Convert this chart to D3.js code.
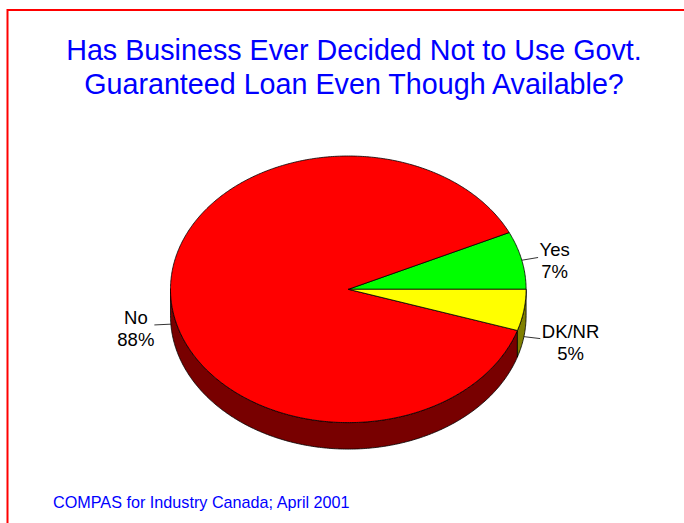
<!DOCTYPE html>
<html>
<head>
<meta charset="utf-8">
<script src="https://cdn.jsdelivr.net/npm/d3@7/dist/d3.min.js"></script>
<style>
  html, body { margin: 0; padding: 0; background: #fff; }
  svg { display: block; font-family: "Liberation Sans", Arial, sans-serif; }
</style>
</head>
<body>
<svg id="chart" width="684" height="523"></svg>
<script>
// Survey answers, in drawing order (counter-clockwise from 3 o'clock)
const categories = ["Yes", "No", "DK/NR"];
const values = [7, 88, 5];
const valueLabels = ["7%", "88%", "5%"];
const topColors = ["#00ff00", "#ff0000", "#ffff00"];
const sideColors = ["#007f00", "#780000", "#808000"];

const titleLines = [
  "Has Business Ever Decided Not to Use Govt.",
  "Guaranteed Loan Even Though Available?"
];
const sourceNote = "COMPAS for Industry Canada; April 2001";

const W = 684, H = 523;
const svg = d3.select("#chart");

// Frame
svg.append("path")
  .attr("d", `M7.5,${H + 5} V10 H${W + 5}`)
  .attr("fill", "none")
  .attr("stroke", "#ff0000")
  .attr("stroke-width", 2);

// Title
svg.append("g")
  .selectAll("text")
  .data(titleLines)
  .join("text")
  .attr("x", 354)
  .attr("y", (d, i) => 59.5 + i * 34)
  .attr("text-anchor", "middle")
  .attr("fill", "#0000ff")
  .attr("font-size", "28.7px")
  .text(d => d);

// Source note
svg.append("text")
  .attr("x", 53)
  .attr("y", 507.5)
  .attr("fill", "#0000ff")
  .attr("font-size", "16.2px")
  .text(sourceNote);

// 3D pie geometry
const cx = 348.3, cy = 289.3, rx = 177.8, ry = 133.3, depth = 26.5;
const TAU = 2 * Math.PI;

const pie = d3.pie()
  .value(d => d.value)
  .sort(null)
  .startAngle(Math.PI / 2)
  .endAngle(Math.PI / 2 - TAU);

const data = categories.map((c, i) => ({
  name: c, value: values[i], label: valueLabels[i],
  top: topColors[i], side: sideColors[i]
}));
const arcs = pie(data);

// d3 angle (0 at 12 o'clock, clockwise) -> point on the top ellipse
const px = a => cx + rx * Math.sin(a);
const py = a => cy - ry * Math.cos(a);

function ellipsePoints(a0, a1, dy = 0) {
  const n = Math.max(2, Math.ceil(Math.abs(a1 - a0) / 0.01));
  return d3.range(n + 1).map(k => {
    const a = a0 + (a1 - a0) * k / n;
    return [px(a), py(a) + dy];
  });
}

const line = d3.line();

// Front-facing wall pieces (angles between 3 and 9 o'clock via 6 o'clock)
const walls = [];
arcs.forEach(d => {
  const lo0 = Math.min(d.startAngle, d.endAngle);
  const hi0 = Math.max(d.startAngle, d.endAngle);
  [-1, 0, 1].forEach(k => {
    const lo = Math.max(lo0 + k * TAU, Math.PI / 2);
    const hi = Math.min(hi0 + k * TAU, 3 * Math.PI / 2);
    if (hi - lo > 1e-6) walls.push({ d, lo, hi });
  });
});

const gWalls = svg.append("g");
walls.forEach(w => {
  const topEdge = ellipsePoints(w.lo, w.hi);
  const bottomEdge = ellipsePoints(w.hi, w.lo, depth);
  gWalls.append("path")
    .attr("d", line(topEdge.concat(bottomEdge)) + "Z")
    .attr("fill", w.d.data.side)
    .attr("stroke", "#000")
    .attr("stroke-width", 0.8)
    .attr("stroke-linejoin", "round");
});

// Top faces
const gTop = svg.append("g");
arcs.forEach(d => {
  const pts = [[cx, cy]].concat(ellipsePoints(d.startAngle, d.endAngle));
  gTop.append("path")
    .attr("d", line(pts) + "Z")
    .attr("fill", d.data.top)
    .attr("stroke", "#000")
    .attr("stroke-width", 0.8)
    .attr("stroke-linejoin", "round");
});

// Leader lines and labels
const gLab = svg.append("g");
arcs.forEach(d => {
  const mid = (d.startAngle + d.endAngle) / 2;
  const front = Math.cos(mid) < 0;
  const ax = px(mid), ay = py(mid) + (front ? depth : 0);
  const vx = rx * Math.sin(mid), vy = -ry * Math.cos(mid);
  const len = Math.hypot(vx, vy);
  const ex = ax + vx / len * 16.5, ey = ay + vy / len * 16.5;

  gLab.append("line")
    .attr("x1", ax).attr("y1", ay)
    .attr("x2", ex).attr("y2", ey)
    .attr("stroke", "#000")
    .attr("stroke-width", 0.8);

  const t = gLab.append("text")
    .attr("font-size", "18.5px")
    .attr("fill", "#000")
    .attr("text-anchor", "middle");
  const lines = [d.data.name, d.data.label];
  const spans = lines.map((s, i) => t.append("tspan").attr("dy", 0).text(s));
  const maxW = d3.max(spans, s => s.node().getComputedTextLength());
  const right = Math.sin(mid) >= 0;
  const bx = right ? ex + 1.5 + maxW / 2 : ex - maxW / 2;
  spans.forEach((s, i) => s.attr("x", bx).attr("y", ey - 1 + i * 22));
});
</script>
</body>
</html>
